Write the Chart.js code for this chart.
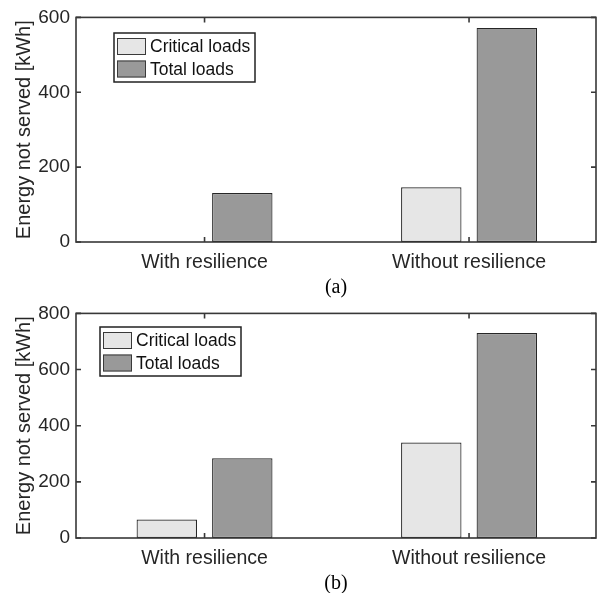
<!DOCTYPE html>
<html>
<head>
<meta charset="utf-8">
<script src="https://cdn.jsdelivr.net/npm/chart.js@4"></script>
<style>
  html, body { margin: 0; padding: 0; background: #ffffff; }
  #wrap { position: relative; width: 600px; height: 593px; overflow: hidden; }
  #wrap canvas { position: absolute; left: 0; }
</style>
</head>
<body>
<div id="wrap">
  <canvas id="chartA" width="600" height="300" style="top:0px"></canvas>
  <canvas id="chartB" width="600" height="300" style="top:296px"></canvas>
</div>
<script>
// Energy not served per scenario, kWh
const categories = ['With resilience', 'Without resilience'];
const seriesNames = ['Critical loads', 'Total loads'];

// Panel (a)
const criticalA = [0, 146];
const totalA = [131, 572];
const yTicksA = [0, 200, 400, 600];

// Panel (b)
const criticalB = [66, 340];
const totalB = [284, 730];
const yTicksB = [0, 200, 400, 600, 800];

const yTitle = 'Energy not served [kWh]';
const captionA = '(a)';
const captionB = '(b)';

// Group positions on the x axis and its limits
const groupPos = categories.map((c, i) => i + 1);
const xLimits = [0.514, 2.48];

const SANS = "'Liberation Sans', Arial, Helvetica, sans-serif";
const SERIF = "'Liberation Serif', 'Times New Roman', serif";
const AXIS_COLOR = '#383838';
const TEXT_COLOR = '#262626';

// Closed axes box with inward tick marks on all four sides
const axisBox = {
  id: 'axisBox',
  afterDatasetsDraw(chart, args, opts) {
    const { ctx, chartArea: a, scales: { x, y } } = chart;
    const L = opts.tickLen;
    ctx.save();
    ctx.strokeStyle = opts.color;
    ctx.lineWidth = opts.width;
    ctx.strokeRect(a.left, a.top, a.right - a.left, a.bottom - a.top);
    ctx.beginPath();
    y.ticks.forEach(t => {
      const py = y.getPixelForValue(t.value);
      ctx.moveTo(a.left, py); ctx.lineTo(a.left + L, py);
      ctx.moveTo(a.right, py); ctx.lineTo(a.right - L, py);
    });
    x.ticks.forEach(t => {
      const px = x.getPixelForValue(t.value);
      ctx.moveTo(px, a.bottom); ctx.lineTo(px, a.bottom - L);
      ctx.moveTo(px, a.top); ctx.lineTo(px, a.top + L);
    });
    ctx.stroke();
    ctx.restore();
  }
};

// Boxed legend placed inside the plot area
const boxLegend = {
  id: 'boxLegend',
  afterDraw(chart, args, o) {
    const ctx = chart.ctx;
    ctx.save();
    ctx.fillStyle = '#ffffff';
    ctx.fillRect(o.x, o.y, o.w, o.h);
    ctx.strokeStyle = o.borderColor;
    ctx.lineWidth = o.borderWidth;
    ctx.strokeRect(o.x, o.y, o.w, o.h);
    ctx.font = o.font;
    ctx.textBaseline = 'middle';
    ctx.textAlign = 'left';
    chart.data.datasets.forEach((ds, i) => {
      const sx = o.x + o.padLeft;
      const sy = o.y + o.padTop + i * o.rowPitch;
      ctx.fillStyle = ds.backgroundColor;
      ctx.fillRect(sx, sy, o.swatchW, o.swatchH);
      ctx.strokeStyle = '#3a3a3a';
      ctx.lineWidth = 1;
      ctx.strokeRect(sx + 0.5, sy + 0.5, o.swatchW - 1, o.swatchH - 1);
      ctx.fillStyle = o.textColor;
      ctx.fillText(ds.label, o.x + o.textLeft, sy + o.swatchH / 2 + 1);
    });
    ctx.restore();
  }
};

function legendAt(x, y) {
  return {
    x, y, w: 141, h: 49,
    padLeft: 3, padTop: 5, rowPitch: 22.5, swatchW: 29, swatchH: 17, textLeft: 36,
    borderColor: '#222222', borderWidth: 1.5,
    font: "17.5px " + SANS, textColor: '#111111'
  };
}

function toPoints(values) {
  return values.map((v, i) => ({ x: groupPos[i], y: v }));
}

function buildChart(id, critical, total, yTicks, caption, legendOpts) {
  return new Chart(document.getElementById(id), {
    type: 'bar',
    data: {
      datasets: [
        { label: seriesNames[0], data: toPoints(critical), backgroundColor: '#e6e6e6',
          borderColor: '#262626', borderWidth: 1.2, borderSkipped: false },
        { label: seriesNames[1], data: toPoints(total), backgroundColor: '#999999',
          borderColor: '#262626', borderWidth: 1.2, borderSkipped: false }
      ]
    },
    options: {
      responsive: false,
      animation: false,
      devicePixelRatio: 1,
      layout: { padding: { top: 14, right: 4, left: 0, bottom: 0 } },
      datasets: { bar: { categoryPercentage: 0.571, barPercentage: 0.80 } },
      scales: {
        x: {
          type: 'linear',
          offset: false,
          min: xLimits[0],
          max: xLimits[1],
          grid: { display: false, drawTicks: false },
          border: { display: false },
          afterBuildTicks: s => { s.ticks = groupPos.map(v => ({ value: v })); },
          ticks: {
            color: TEXT_COLOR, font: { family: SANS, size: 19.5 }, padding: 9, maxRotation: 0,
            callback: v => categories[groupPos.indexOf(v)]
          },
          title: { display: true, text: caption, color: '#000000',
                   font: { family: SERIF, size: 20 }, padding: { top: 0, bottom: 0 } },
          afterFit: s => { s.height = 58; }
        },
        y: {
          min: 0,
          max: yTicks[yTicks.length - 1],
          grid: { display: false, drawTicks: false },
          border: { display: false },
          afterBuildTicks: s => { s.ticks = yTicks.map(v => ({ value: v })); },
          ticks: { color: TEXT_COLOR, font: { family: SANS, size: 19 }, padding: 6 },
          title: { display: true, text: yTitle, color: TEXT_COLOR,
                   font: { family: SANS, size: 20 }, padding: { top: 12, bottom: 0 } },
          afterFit: s => { s.width = 76; }
        }
      },
      plugins: {
        legend: { display: false },
        tooltip: { enabled: false },
        axisBox: { color: AXIS_COLOR, width: 1.6, tickLen: 5 },
        boxLegend: legendOpts
      }
    },
    plugins: [axisBox, boxLegend]
  });
}

buildChart('chartA', criticalA, totalA, yTicksA, captionA, legendAt(114, 33));
buildChart('chartB', criticalB, totalB, yTicksB, captionB, legendAt(100, 31));
</script>
</body>
</html>
